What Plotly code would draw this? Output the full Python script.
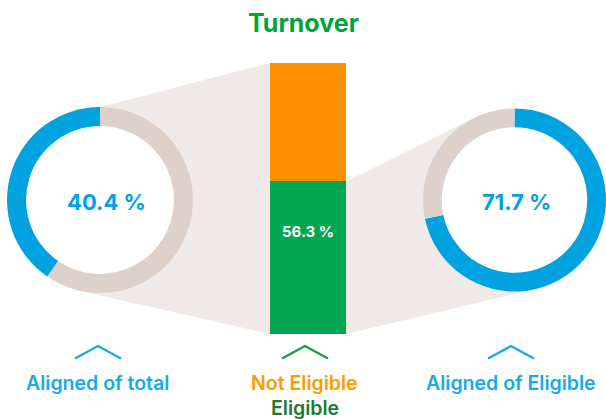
import math
import plotly.graph_objects as go

# --- data -------------------------------------------------------------
turnover_labels = ["Eligible", "Not Eligible"]
turnover_share = [56.3, 43.7]          # % of turnover
total_split_labels = ["Not aligned", "Aligned"]
aligned_of_total = [59.6, 40.4]        # % of total turnover
eligible_split_labels = ["Aligned", "Not aligned"]
aligned_of_eligible = [71.7, 28.3]     # % of eligible turnover

# --- styling ----------------------------------------------------------
W, H = 606, 419
BLUE = "#00a3e0"
LABEL_BLUE = "#14aaf0"
RING_GREY = "#ddd1c9"
SHADE = "#efeae7"
ORANGE = "#ff9100"
GREEN = "#00a650"
TITLE_GREEN = "#00a33e"
DARK_GREEN = "#1b7a33"
FONT = "Inter"

# layout geometry in pixels (origin top-left)
BAR_X0, BAR_X1 = 270, 346
BAR_TOP, BAR_BOTTOM = 63, 334
LEFT_C = (100, 200)
RIGHT_C = (514.5, 200)
R_LEFT = 93
R_RIGHT = (W - 423) / 2
HOLE = 0.795


def px(x):
    return x / W


def py(y):
    return 1 - y / H


def bar_y(value):
    """pixel y of a value on the bar's 0-100 scale"""
    return BAR_BOTTOM - value / 100 * (BAR_BOTTOM - BAR_TOP)


def tangent(p, c, r, side):
    dx, dy = p[0] - c[0], p[1] - c[1]
    d = math.hypot(dx, dy)
    a = math.atan2(dy, dx) + side * math.acos(r / d)
    return c[0] + r * math.cos(a), c[1] + r * math.sin(a)


def path(points):
    pts = [f"{px(x):.5f},{py(y):.5f}" for x, y in points]
    return "M " + " L ".join(pts) + " Z"


fig = go.Figure()

# stacked turnover bar
fig.add_trace(go.Bar(
    x=[0], y=[turnover_share[0]], width=1, name=turnover_labels[0],
    marker=dict(color=GREEN, line=dict(width=0)), hoverinfo="name+y",
    xaxis="x", yaxis="y",
))
fig.add_trace(go.Bar(
    x=[0], y=[turnover_share[1]], width=1, name=turnover_labels[1],
    marker=dict(color=ORANGE, line=dict(width=0)), hoverinfo="name+y",
    xaxis="x", yaxis="y",
))

# donuts (both sweep clockwise from 12 o'clock)
fig.add_trace(go.Pie(
    values=aligned_of_total, labels=total_split_labels, hole=HOLE, sort=False,
    direction="clockwise", rotation=0, textinfo="none",
    marker=dict(colors=[RING_GREY, BLUE], line=dict(width=0)),
    domain=dict(x=[px(LEFT_C[0] - R_LEFT), px(LEFT_C[0] + R_LEFT)],
                y=[py(LEFT_C[1] + R_LEFT), py(LEFT_C[1] - R_LEFT)]),
))
fig.add_trace(go.Pie(
    values=aligned_of_eligible, labels=eligible_split_labels, hole=HOLE, sort=False,
    direction="clockwise", rotation=0, textinfo="none",
    marker=dict(colors=[BLUE, RING_GREY], line=dict(width=0)),
    domain=dict(x=[px(RIGHT_C[0] - R_RIGHT), 1.0],
                y=[py(RIGHT_C[1] + R_RIGHT), py(RIGHT_C[1] - R_RIGHT)]),
))

# connector fans behind the donuts
eligible_top = bar_y(turnover_share[0])
left_bottom = tangent((BAR_X0, BAR_BOTTOM), LEFT_C, R_LEFT, +1)
left_poly = [(LEFT_C[0], LEFT_C[1] - R_LEFT), (BAR_X0, BAR_TOP),
             (BAR_X0, BAR_BOTTOM), left_bottom, LEFT_C]
rt = tangent((BAR_X1, eligible_top), RIGHT_C, R_RIGHT, +1)
rb = tangent((BAR_X1, BAR_BOTTOM), RIGHT_C, R_RIGHT, -1)
right_poly = [(BAR_X1, eligible_top), rt, RIGHT_C, rb, (BAR_X1, BAR_BOTTOM)]

shapes = [
    dict(type="path", path=path(left_poly), xref="paper", yref="paper",
         fillcolor=SHADE, line=dict(width=0), layer="below"),
    dict(type="path", path=path(right_poly), xref="paper", yref="paper",
         fillcolor=SHADE, line=dict(width=0), layer="below"),
]
# white donut centres
for (cx, cy), r in ((LEFT_C, R_LEFT), (RIGHT_C, R_RIGHT)):
    ri = r * HOLE + 1
    shapes.append(dict(type="circle", xref="paper", yref="paper",
                       x0=px(cx - ri), x1=px(cx + ri), y0=py(cy + ri), y1=py(cy - ri),
                       fillcolor="white", line=dict(width=0), layer="below"))

# chevrons above the captions
for cx, col in ((98, LABEL_BLUE), (305, "#16a040"), (511, LABEL_BLUE)):
    pts = [(cx - 23, 358.5), (cx, 346), (cx + 23, 358.5)]
    shapes.append(dict(type="path", xref="paper", yref="paper",
                       path="M " + " L ".join(f"{px(x):.5f},{py(y):.5f}" for x, y in pts),
                       line=dict(color=col, width=2.4)))

annotations = [
    dict(text="Turnover", x=px(303), y=py(23), font=dict(size=25, color=TITLE_GREEN, family=FONT, weight=700)),
    dict(text=f"{aligned_of_total[1]:.1f} %", x=px(106), y=py(202),
         font=dict(size=22, color=BLUE, family=FONT, weight=700)),
    dict(text=f"{aligned_of_eligible[0]:.1f} %", x=px(516), y=py(202),
         font=dict(size=22, color=BLUE, family=FONT, weight=700)),
    dict(text="Aligned of total", x=px(98), y=py(383),
         font=dict(size=19.5, color=LABEL_BLUE, family=FONT, weight=600)),
    dict(text="Not Eligible", x=px(304), y=py(383),
         font=dict(size=19.5, color="#ff9a00", family=FONT, weight=600)),
    dict(text="Eligible", x=px(305), y=py(408),
         font=dict(size=19.5, color=DARK_GREEN, family=FONT, weight=600)),
    dict(text="Aligned of Eligible", x=px(511), y=py(383),
         font=dict(size=19.5, color=LABEL_BLUE, family=FONT, weight=600)),
]
for a in annotations:
    a.update(xref="paper", yref="paper", showarrow=False, xanchor="center", yanchor="middle")

# value label inside the eligible segment
annotations.append(dict(
    text=f"{turnover_share[0]:.1f} %", x=0, y=turnover_share[0], xref="x", yref="y",
    yshift=-(231 - eligible_top), showarrow=False, xanchor="center", yanchor="middle",
    font=dict(size=15, color="white", family=FONT, weight=700),
))

fig.update_layout(
    width=W, height=H, autosize=False,
    margin=dict(l=0, r=0, t=0, b=0),
    paper_bgcolor="white", plot_bgcolor="rgba(0,0,0,0)",
    barmode="stack", bargap=0, showlegend=False,
    xaxis=dict(domain=[px(BAR_X0), px(BAR_X1)], range=[-0.5, 0.5], visible=False, fixedrange=True),
    yaxis=dict(domain=[py(BAR_BOTTOM), py(BAR_TOP)], range=[0, 100], visible=False, fixedrange=True),
    shapes=shapes, annotations=annotations,
)

fig.write_html("out.html", config={"displayModeBar": False})
